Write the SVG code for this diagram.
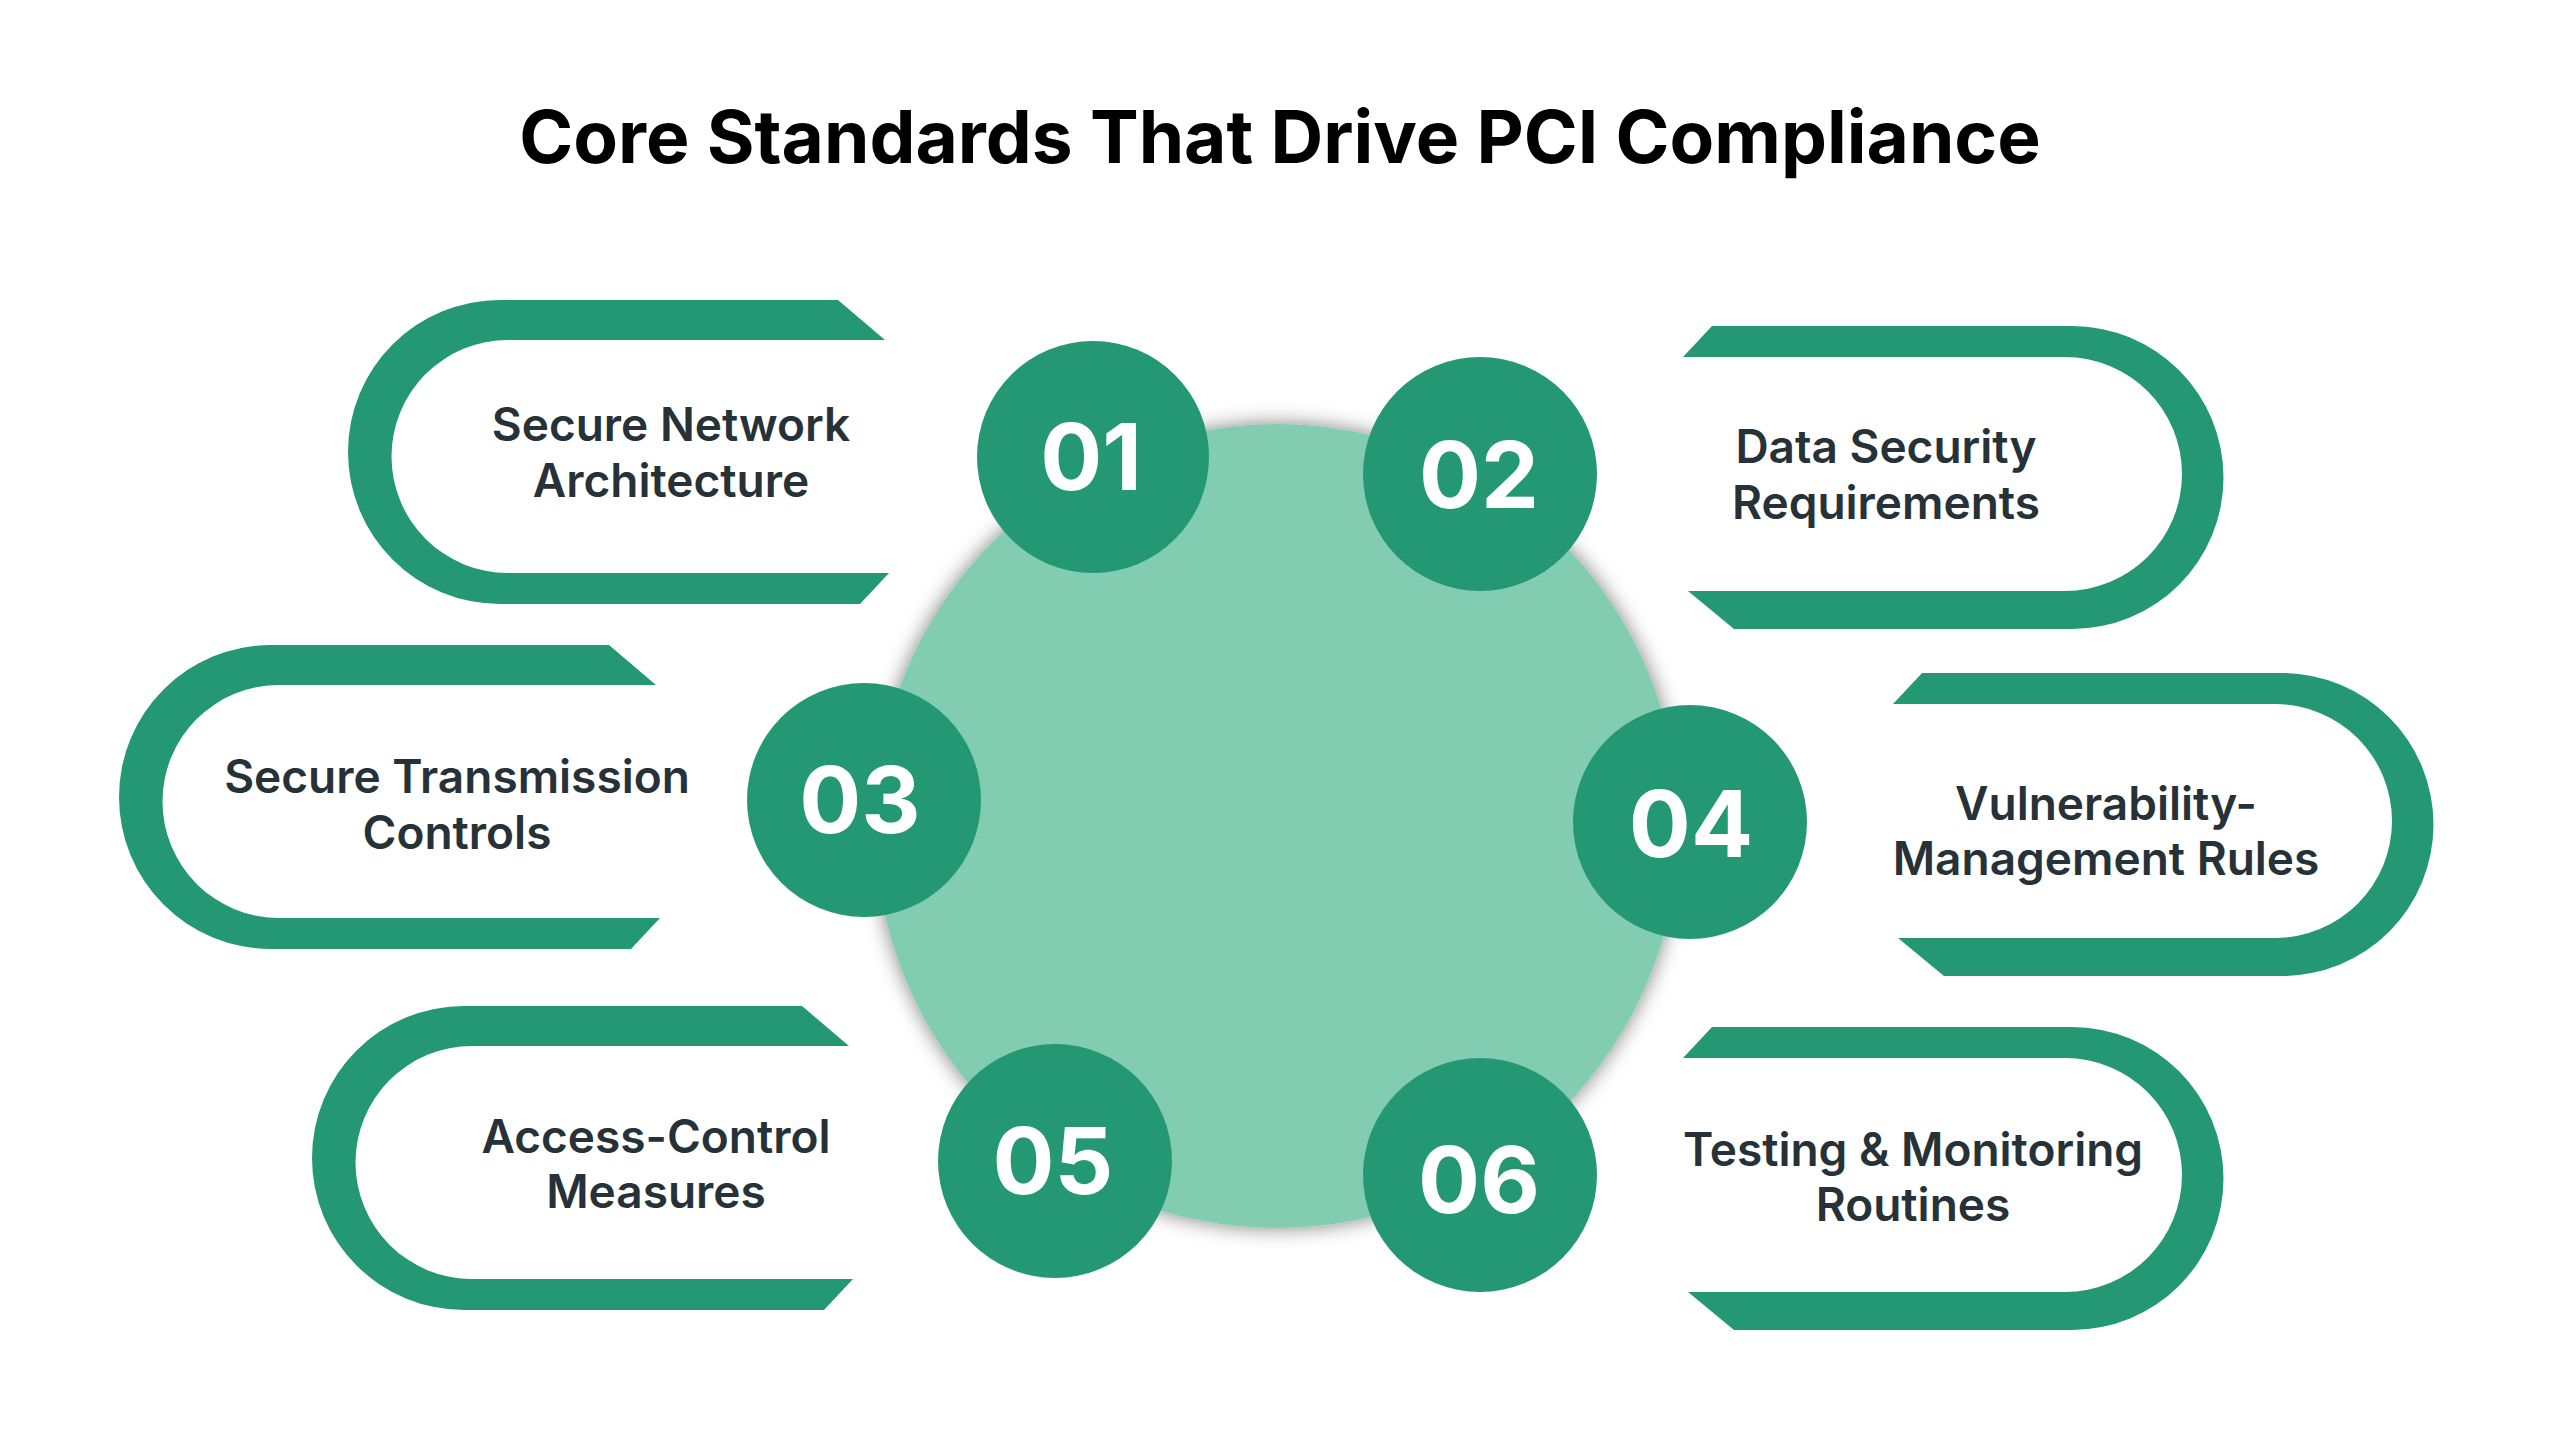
<svg xmlns="http://www.w3.org/2000/svg" width="2560" height="1440" viewBox="0 0 2560 1440">
<defs>
<style>
.pill{fill:#249873}
.num{fill:#249873}
.numt{font-family:Inter,"Noto Sans",sans-serif;font-weight:700;font-size:92px;fill:#ffffff;text-anchor:middle}
.lbl{font-family:Inter,"Noto Sans",sans-serif;font-weight:600;font-size:46px;fill:#263238;text-anchor:middle}
.title{font-family:Inter,"Noto Sans",sans-serif;font-weight:700;font-size:73px;fill:#000000;text-anchor:middle}
</style>
<filter id="sh" x="-20%" y="-20%" width="140%" height="140%">
<feDropShadow dx="0" dy="0" stdDeviation="10" flood-color="#000000" flood-opacity="0.5"/>
</filter>
<path id="pl" d="M 838 300 L 500 300 A 152 152 0 0 0 500 604 L 860 604 L 889 573 L 508 573 A 116.5 116.5 0 0 1 508 340 L 885 340 Z"/>
<path id="pr" d="M 1712 326 L 2072 326 A 151.5 151.5 0 0 1 2072 629 L 1734 629 L 1688 591 L 2065 591 A 117 117 0 0 0 2065 357 L 1683 357 Z"/>
</defs>
<rect width="2560" height="1440" fill="#ffffff"/>
<text class="title" x="1280" y="163">Core Standards That Drive PCI Compliance</text>
<g id="center"><circle cx="1277" cy="826" r="402" fill="#82CDB2" filter="url(#sh)"/></g>
<g id="connectors"></g>
<g id="node1">
<use href="#pl" class="pill"/>
<text class="lbl" x="671" y="441">Secure Network</text>
<text class="lbl" x="671" y="497">Architecture</text>
<circle class="num" cx="1093" cy="457" r="116"/>
<text class="numt" x="1091" y="490">01</text>
</g>
<g id="node2">
<use href="#pr" class="pill"/>
<text class="lbl" x="1886" y="463">Data Security</text>
<text class="lbl" x="1886" y="519">Requirements</text>
<circle class="num" cx="1480" cy="474" r="117"/>
<text class="numt" x="1479" y="508">02</text>
</g>
<g id="node3">
<use href="#pl" class="pill" transform="translate(-229,345)"/>
<text class="lbl" x="457" y="793">Secure Transmission</text>
<text class="lbl" x="457" y="849">Controls</text>
<circle class="num" cx="864" cy="800" r="117"/>
<text class="numt" x="860" y="833">03</text>
</g>
<g id="node4">
<use href="#pr" class="pill" transform="translate(210,347)"/>
<text class="lbl" x="2106" y="820">Vulnerability-</text>
<text class="lbl" x="2106" y="875">Management Rules</text>
<circle class="num" cx="1690" cy="822" r="117"/>
<text class="numt" x="1691" y="857">04</text>
</g>
<g id="node5">
<use href="#pl" class="pill" transform="translate(-36,706)"/>
<text class="lbl" x="656" y="1153">Access-Control</text>
<text class="lbl" x="656" y="1208">Measures</text>
<circle class="num" cx="1055" cy="1161" r="117"/>
<text class="numt" x="1053" y="1194">05</text>
</g>
<g id="node6">
<use href="#pr" class="pill" transform="translate(0,701)"/>
<text class="lbl" x="1913" y="1166">Testing &amp; Monitoring</text>
<text class="lbl" x="1913" y="1221">Routines</text>
<circle class="num" cx="1480" cy="1175" r="117"/>
<text class="numt" x="1479" y="1213">06</text>
</g>
</svg>
